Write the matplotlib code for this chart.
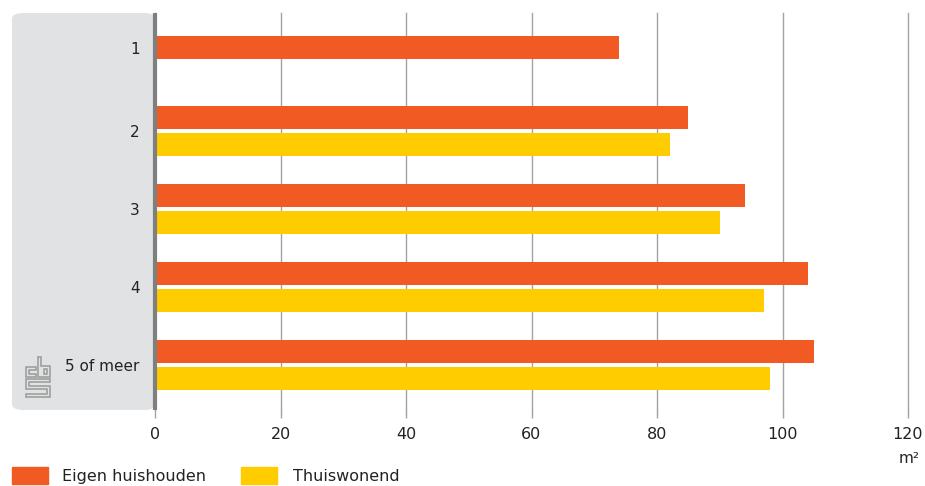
import matplotlib.pyplot as plt
from matplotlib.patches import FancyBboxPatch, Rectangle, Polygon

# gemiddelde woonoppervlakte (m2) naar huishoudensgrootte
categories = ['1', '2', '3', '4', '5 of meer']
eigen = [74, 85, 94, 104, 105]
thuis = [None, 82, 90, 97, 98]
xticks = [0, 20, 40, 60, 80, 100, 120]

ORANGE = '#f15a22'
YELLOW = '#ffcc00'
PANEL = '#e1e2e4'
GRID = '#a3a3a3'
TEXT = '#222222'

W, H = 925, 486
fig = plt.figure(figsize=(W / 100, H / 100), dpi=100)

def fx(px):
    return px / W

def fy(py):
    return 1 - py / H

# grey label panel behind category names
panel = FancyBboxPatch((fx(12), fy(410)), fx(155) - fx(12), fy(13) - fy(410),
                       boxstyle='round,pad=0,rounding_size=0.012',
                       transform=fig.transFigure, facecolor=PANEL,
                       edgecolor='none', zorder=-5)
fig.patches.append(panel)

ax = fig.add_axes([fx(155), fy(410), fx(908) - fx(155), fy(13) - fy(410)])
ax.set_facecolor('none')

pos = [-0.065, 1, 2, 3, 4]
h = 0.295
off = 0.177
for i, c in enumerate(categories):
    if thuis[i] is None:
        ax.barh(pos[i], eigen[i], height=h, color=ORANGE, zorder=3)
    else:
        ax.barh(pos[i] - off, eigen[i], height=h, color=ORANGE, zorder=3)
        ax.barh(pos[i] + off, thuis[i], height=h, color=YELLOW, zorder=3)

ax.set_xlim(0, 120)
ax.set_ylim(4.577, -0.513)
ax.set_xticks(xticks)
ax.set_xticklabels([str(v) for v in xticks], fontsize=11.5, color=TEXT)
ax.tick_params(axis='x', length=6, width=1, color=GRID, pad=6)
ax.grid(axis='x', color=GRID, linewidth=1, zorder=1)
for gl in ax.get_xgridlines():
    gl.set_clip_on(False)
ax.set_yticks(pos)
ax.set_yticklabels(categories, fontsize=11, color=TEXT)
ax.tick_params(axis='y', length=0, pad=11)
for s in ['top', 'right', 'bottom']:
    ax.spines[s].set_visible(False)
ax.spines['left'].set_color('#7f7f7f')
ax.spines['left'].set_linewidth(3)
ax.spines['left'].set_capstyle('butt')
ax.spines['left'].set_zorder(4)

# unit label
fig.text(fx(920), fy(458), 'm²', ha='right', va='center', fontsize=11, color=TEXT)

# legend
fig.patches.append(Rectangle((fx(12), fy(484)), fx(36), fy(467) - fy(484),
                             transform=fig.transFigure, color=ORANGE))
fig.text(fx(62), fy(476), 'Eigen huishouden', va='center', fontsize=11.5, color=TEXT)
fig.patches.append(Rectangle((fx(241), fy(484)), fx(36), fy(467) - fy(484),
                             transform=fig.transFigure, color=YELLOW))
fig.text(fx(293), fy(476), 'Thuiswonend', va='center', fontsize=11.5, color=TEXT)

# rough cbs logo (outlined shapes)
logo = [
    [(36, 367), (26, 367), (26, 377), (36, 377), (36, 374), (29, 374), (29, 370), (36, 370)],
    [(38, 357), (41, 357), (41, 366), (50, 366), (50, 377), (38, 377)],
    [(44, 369), (47, 369), (47, 374), (44, 374)],
    [(26, 379), (50, 379), (50, 382), (29, 382), (29, 386), (50, 386), (50, 397),
     (26, 397), (26, 394), (47, 394), (47, 389), (26, 389)],
]
for pts in logo:
    xy = [(fx(p[0]), fy(p[1])) for p in pts]
    fig.patches.append(Polygon(xy, closed=True, transform=fig.transFigure,
                               facecolor='none', edgecolor='#999999', linewidth=1.1))

fig.savefig('out.png', dpi=100)
